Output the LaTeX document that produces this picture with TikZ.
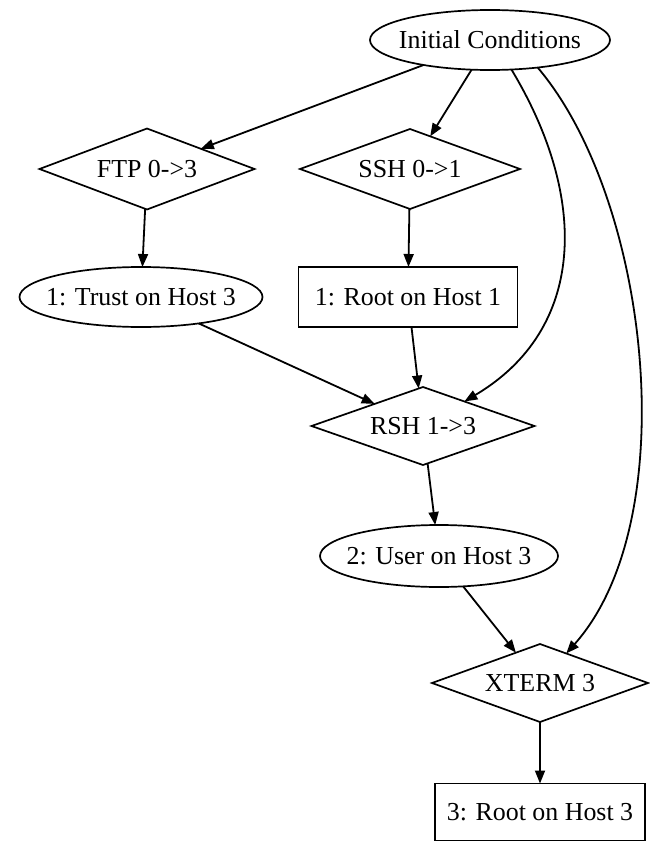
\documentclass[tikz,border=0pt]{standalone}
\usepackage{fontspec}
\setmainfont{Liberation Serif}
\usetikzlibrary{shapes.geometric,arrows.meta}
\begin{document}
\begin{tikzpicture}[x=1bp,y=-1bp,
  shapebase/.style={draw=black, line width=1.7bp, inner sep=0pt, outer sep=0pt},
  ell/.style={shapebase, ellipse},
  dia/.style={shapebase, diamond},
  rbox/.style={shapebase, rectangle},
  every label/.style={font=\fontsize{26}{30}\selectfont, inner sep=0pt, draw=none},
  arr/.style={line width=1.8bp, -{Triangle[length=13bp,width=10bp]}}]
\useasboundingbox (0,0) rectangle (650,842);

% states and exploits
\node[ell, minimum width=240bp, minimum height=60bp, label=center:{Initial Conditions}] (init) at (490,40) {};
\node[dia, minimum width=215bp, minimum height=81bp, label=center:{FTP 0->3}] (ftp) at (147,169) {};
\node[dia, minimum width=220bp, minimum height=80bp, label=center:{SSH 0->1}] (ssh) at (410,169) {};
\node[ell, minimum width=243bp, minimum height=60bp, label=center:{1: Trust on Host 3}] (trust) at (141,297) {};
\node[rbox, minimum width=219bp, minimum height=60bp, label=center:{1: Root on Host 1}] (root1) at (408,297) {};
\node[dia, minimum width=223bp, minimum height=78bp, label=center:{RSH 1->3}] (rsh) at (423,426) {};
\node[ell, minimum width=238bp, minimum height=62bp, label=center:{2: User on Host 3}] (user) at (439,556) {};
\node[dia, minimum width=216bp, minimum height=78bp, label=center:{XTERM 3}] (xterm) at (540,683) {};
\node[rbox, minimum width=210bp, minimum height=57bp, label=center:{3: Root on Host 3}] (root3) at (540,812) {};

% connectors
\draw[arr] (init) -- (ftp);
\draw[arr] (init) -- (ssh);
\draw[arr] (ftp) -- (trust);
\draw[arr] (ssh) -- (root1);
\draw[arr] (trust) -- (rsh);
\draw[arr] (root1) -- (rsh);
\draw[arr] (init.-54) .. controls (590,200) and (585,330) .. (rsh);
\draw[arr] (init.-30) .. controls (650,200) and (685,520) .. (xterm);
\draw[arr] (rsh) -- (user);
\draw[arr] (user) -- (xterm);
\draw[arr] (xterm) -- (root3);
\end{tikzpicture}
\end{document}
